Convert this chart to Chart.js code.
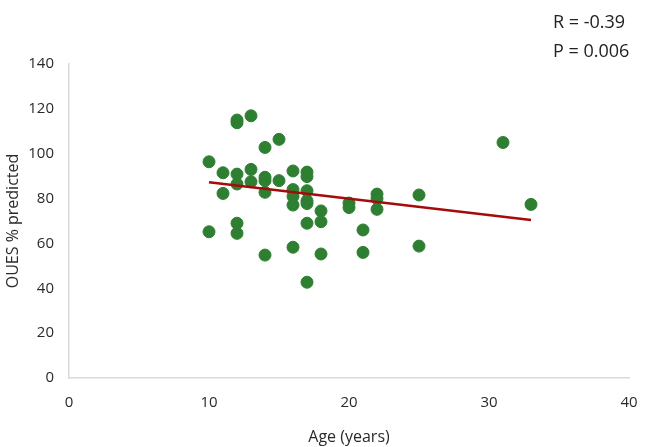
<!DOCTYPE html>
<html>
<head>
<meta charset="utf-8">
<script src="https://cdn.jsdelivr.net/npm/chart.js@4.4.1/dist/chart.umd.min.js"></script>
<style>
  html,body{margin:0;padding:0;background:#fff;}
  #wrap{width:646px;height:447px;position:relative;}
</style>
</head>
<body>
<div id="wrap"><canvas id="c" width="646" height="447"></canvas></div>
<script>
// Data
const ages = [10,10, 11,11, 12,12,12,12,12,12, 13,13,13, 14,14,14,14,14, 15,15, 16,16,16,16,16, 17,17,17,17,17,17,17, 18,18,18, 20,20, 21,21, 22,22,22, 25,25, 31, 33];
const oues = [96.4,65.2, 91.5,82.3, 115,113.8,90.9,86.5,69,64.5, 116.9,93,87.5, 102.8,89.5,88,82.8,54.8, 106.4,88, 92.3,84,81,77.1,58.3, 91.8,89.8,83.5,79,77.8,69,42.7, 74.5,69.7,55.3, 78,76, 66,56, 82,80,75.2, 81.6,58.8, 105, 77.4];
const trendAges = [10, 33];
const trendValues = [87.3, 70.4];
const xTicks = [0, 10, 20, 30, 40];
const yTicks = [0, 20, 40, 60, 80, 100, 120, 140];
const statLines = ["R = -0.39", "P = 0.006"];

const scatterPts = ages.map((a, i) => ({x: a, y: oues[i]}));
const trendPts = trendAges.map((a, i) => ({x: a, y: trendValues[i]}));

const statsPlugin = {
  id: 'stats',
  afterDraw(chart) {
    const ctx = chart.ctx;
    ctx.save();
    ctx.font = '18px "Open Sans"';
    ctx.fillStyle = '#222';
    ctx.textAlign = 'left';
    ctx.textBaseline = 'middle';
    ctx.fillText(statLines[0], 553, 23);
    ctx.fillText(statLines[1], 553, 52);
    ctx.restore();
  }
};

new Chart(document.getElementById('c'), {
  type: 'scatter',
  data: {
    datasets: [
      {
        type: 'line',
        data: trendPts,
        borderColor: '#a50b0b',
        borderWidth: 2.5,
        pointRadius: 0,
        fill: false,
        order: 0
      },
      {
        data: scatterPts,
        backgroundColor: '#2e7f32',
        borderColor: '#2e7f32',
        pointRadius: 6,
        pointHoverRadius: 6,
        order: 1
      }
    ]
  },
  options: {
    responsive: false,
    animation: false,
    events: [],
    layout: { padding: { top: 64, right: 17, left: 0, bottom: 0 } },
    plugins: { legend: { display: false }, tooltip: { enabled: false } },
    scales: {
      x: {
        type: 'linear',
        min: 0, max: 40,
        afterBuildTicks: s => { s.ticks = xTicks.map(v => ({value: v})); },
        afterFit: s => { s.height = 69; s.paddingRight = 0; s.paddingLeft = 0; },
        grid: { display: false, drawTicks: false },
        border: { color: '#d9d9d9', width: 1.5 },
        ticks: { font: { family: 'Open Sans', size: 15 }, color: '#2a2a2a', padding: 16, maxRotation: 0 },
        title: { display: true, text: 'Age (years)', font: { family: 'Open Sans', size: 16 }, color: '#2a2a2a', padding: { top: 4, bottom: 0 } }
      },
      y: {
        type: 'linear',
        min: 0, max: 140,
        afterBuildTicks: s => { s.ticks = yTicks.map(v => ({value: v})); },
        afterFit: s => { s.width = 69; s.paddingTop = 0; s.paddingBottom = 0; },
        grid: { display: false, drawTicks: false },
        border: { color: '#d9d9d9', width: 1.5 },
        ticks: { font: { family: 'Open Sans', size: 15 }, color: '#2a2a2a', padding: 15 },
        title: { display: true, text: 'OUES % predicted', font: { family: 'Open Sans', size: 16 }, color: '#2a2a2a', padding: { bottom: 4 } }
      }
    }
  },
  plugins: [statsPlugin]
});
</script>
</body>
</html>
